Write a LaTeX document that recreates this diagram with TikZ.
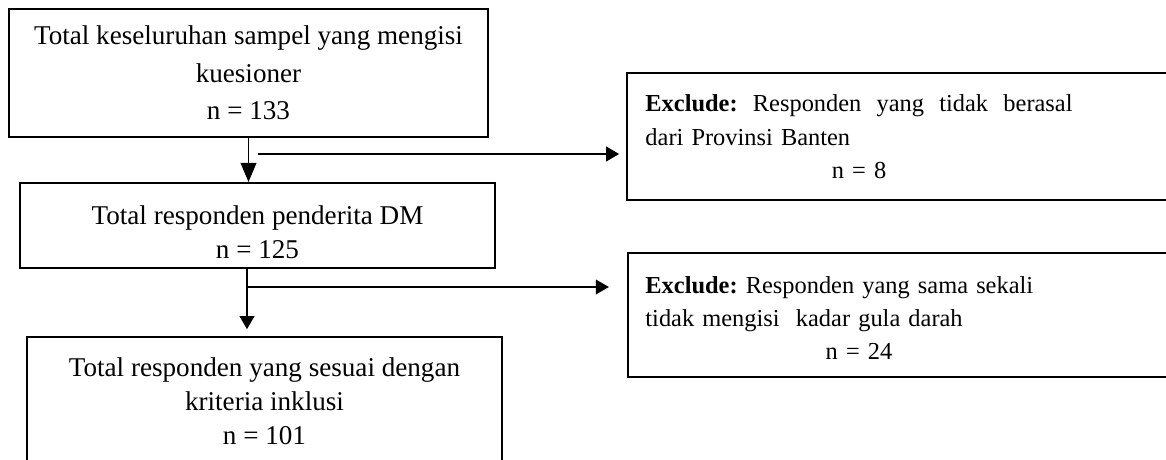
\documentclass[tikz,border=0pt]{standalone}
\usepackage{fontspec}
\setmainfont{Liberation Serif}
\usetikzlibrary{arrows.meta}
\newcommand{\pxl}{0.4425pt}
\frenchspacing

\begin{document}
\begin{tikzpicture}[x=0.4425pt, y=-0.4425pt,
	box/.style={draw, line width=0.9pt, inner sep=0pt, align=center, font=\fontsize{12}{15}\selectfont},
	exbox/.style={draw, line width=0.9pt, inner sep=0pt, minimum width=573*\pxl},
	extext/.style={anchor=west, inner sep=0pt, text width=189pt, align=left, font=\fontsize{10.8}{14.8}\selectfont},
	flow/.style={line width=0.8pt, -{Triangle[length=5.8pt,width=6.5pt]}}]
	\useasboundingbox (0,0) rectangle (1166,459);
	\clip (0,0) rectangle (1166,459);
	\node[box, font=\fontsize{12}{16.5}\selectfont, minimum width=479*\pxl, minimum height=128*\pxl] (tot) at (248.5,73) {Total keseluruhan sampel yang mengisi\\ kuesioner\\ n = 133};
	\node[box, minimum width=475*\pxl, minimum height=85*\pxl] (dm) at (257.5,225.5) {\rule{0pt}{14pt}Total responden penderita DM\\ n = 125};
	\node[box, minimum width=475*\pxl, minimum height=128*\pxl] (inkl) at (264.5,401) {Total responden yang sesuai dengan\\ kriteria inklusi\\ n = 101};
	\node[exbox, minimum height=127*\pxl] (ex1) at (913.5,136.5) {};
	\node[extext] (ex1t) at (645,137) {\makebox[189pt][l]{\textbf{Exclude:}\hfill Responden\hfill yang\hfill tidak\hfill berasal}\\ dari Provinsi Banten\\ \makebox[189pt]{n = 8}};
	\node[exbox, minimum height=124*\pxl] (ex2) at (914.5,315) {};
	\node[extext] (ex2t) at (645,318) {\textbf{Exclude:} Responden yang sama sekali\\ tidak mengisi\ \ kadar gula darah\\ \makebox[189pt]{n = 24}};
	\coordinate (b1) at (258,154);
	\coordinate (b2) at (247,287);
	\draw[flow, -{Triangle[length=8.5pt,width=7pt]}] (tot.south) -- (dm.north -| tot.south);
	\draw[flow, shorten >=3pt] (b1) -- (b1 -| ex1.west);
	\draw[flow, shorten >=3pt] (dm.south -| b2) -- (inkl.north -| b2);
	\draw[flow, shorten >=8pt] (b2) -- (b2 -| ex2.west);
\end{tikzpicture}
\end{document}
